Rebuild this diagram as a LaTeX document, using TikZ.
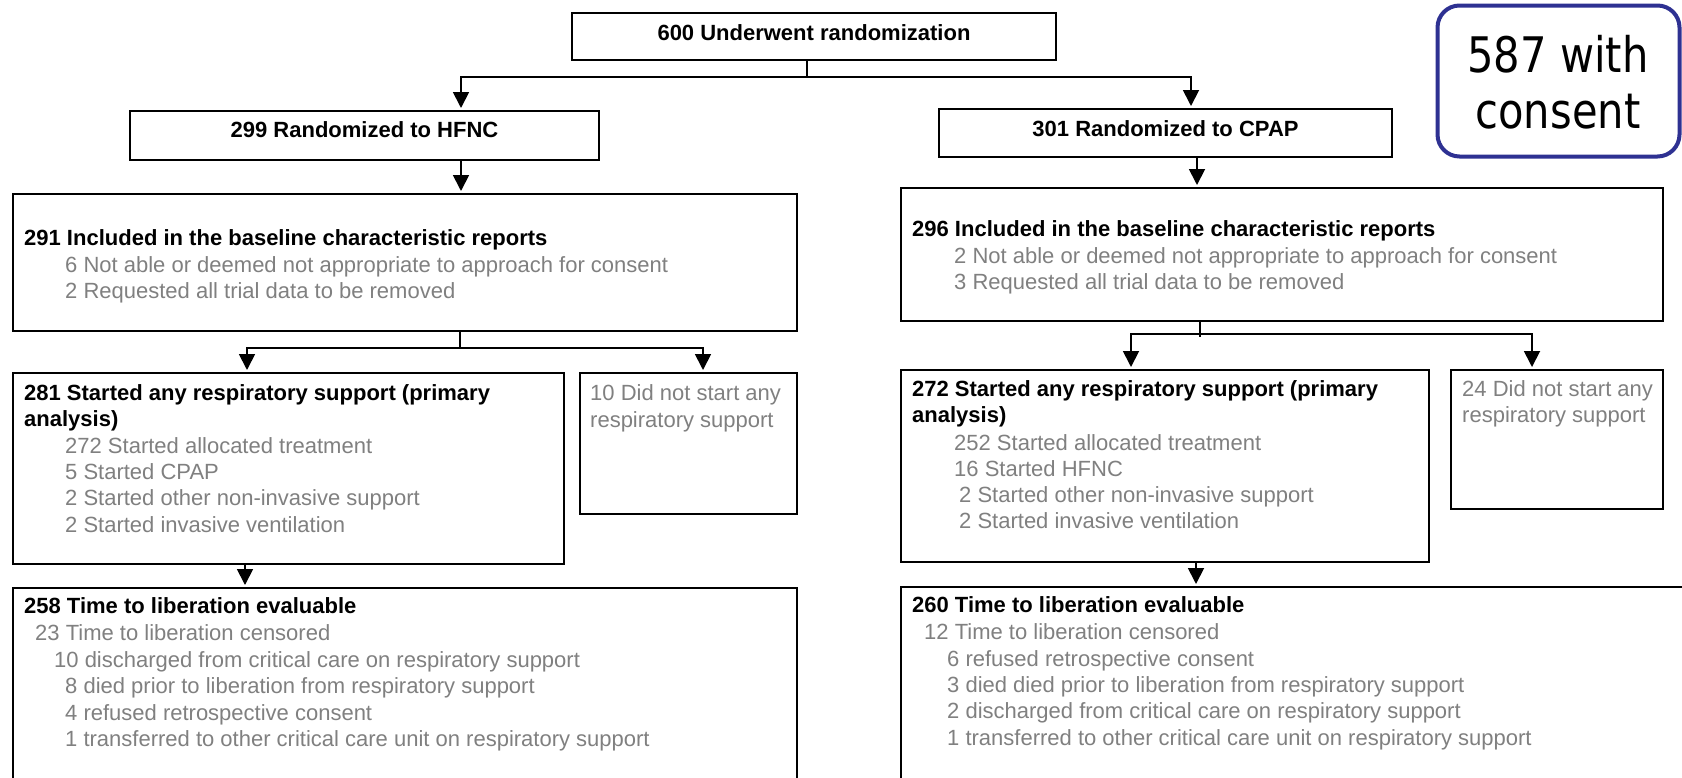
\documentclass[tikz,border=0pt]{standalone}
\usepackage{fontspec}
\setmainfont{Liberation Sans}
\newfontfamily\consentfont[FakeStretch=0.85]{DejaVu Sans}
\usetikzlibrary{arrows.meta}
\definecolor{greytext}{RGB}{128,128,128}
\definecolor{consentblue}{RGB}{46,49,146}

\begin{document}
\begin{tikzpicture}[x=1pt,y=-1pt,
  box/.style={draw=black, line width=2pt, inner sep=0pt, outer sep=0pt, anchor=north west},
  link/.style={line width=1.8pt},
  arr/.style={link, -{Triangle[length=16pt,width=16pt]}, shorten >=3pt},
  body/.style={anchor=base west, inner sep=0pt, font=\fontsize{22}{26}\selectfont},
  head/.style={body, font=\fontsize{22}{26}\selectfont\bfseries},
  note/.style={body, text=greytext},
  title/.style={anchor=base, inner sep=0pt, font=\fontsize{22}{26}\selectfont\bfseries},
  bigtext/.style={anchor=base, inner sep=0pt, font=\consentfont\fontsize{49}{57}\selectfont},
]
\useasboundingbox (0,0) rectangle (1682,777);
\clip (0,0) rectangle (1682,777);
\fill[white] (0,0) rectangle (1682,777);

% boxes
\node[box, minimum width=484pt, minimum height=47pt] (rand) at (572,13) {};
\node[box, minimum width=469pt, minimum height=49pt] (hfnc) at (130,111) {};
\node[box, minimum width=453pt, minimum height=48pt] (cpap) at (939,109) {};
\node[box, minimum width=784pt, minimum height=137pt] (inc1) at (13,194) {};
\node[box, minimum width=762pt, minimum height=133pt] (inc2) at (901,188) {};
\node[box, minimum width=551pt, minimum height=191pt] (start1) at (13,373) {};
\node[box, minimum width=217pt, minimum height=141pt] (nost1) at (580,373) {};
\node[box, minimum width=528pt, minimum height=192pt] (start2) at (901,370) {};
\node[box, minimum width=212pt, minimum height=139pt] (nost2) at (1451,370) {};
\node[box, minimum width=784pt, minimum height=230pt] (time1) at (13,588) {};
\node[box, minimum width=820pt, minimum height=230pt] (time2) at (901,587) {};
\node[box, draw=consentblue, line width=4pt, rounded corners=22pt,
      minimum width=242pt, minimum height=151pt] (consent) at (1437.5,5.5) {};

% connectors
\coordinate (jTop) at (807,77);
\coordinate (xH) at (461,0);
\coordinate (xC) at (1191,0);
\coordinate (xC2) at (1197,0);
\draw[link] (rand.south -| jTop) -- (jTop);
\draw[arr] (jTop) -| (hfnc.north -| xH);
\draw[arr] (jTop) -| (cpap.north -| xC);
\draw[arr] (hfnc.south -| xH) -- (inc1.north -| xH);
\draw[arr] (cpap.south -| xC2) -- (inc2.north -| xC2);

\coordinate (jL) at (460,348);
\coordinate (xS1) at (247,0);
\coordinate (xN1) at (703,0);
\draw[link] (inc1.south -| jL) -- (jL);
\draw[arr] (jL) -| (start1.north -| xS1);
\draw[arr] (jL) -| (nost1.north -| xN1);

\coordinate (jR) at (1200,334);
\coordinate (xS2) at (1131,0);
\coordinate (xN2) at (1532,0);
\draw[link] (inc2.south -| jR) -- ++(0,16);
\draw[arr] (jR) -| (start2.north -| xS2);
\draw[arr] (jR) -| (nost2.north -| xN2);

\coordinate (xT1) at (245,0);
\coordinate (xT2) at (1196,0);
\draw[arr] (start1.south -| xT1) -- (time1.north -| xT1);
\draw[arr] (start2.south -| xT2) -- (time2.north -| xT2);

% titles
\node[title] (tRand) at (814,40) {600 Underwent randomization};
\node[title] (tHfnc) at (364.5,137) {299 Randomized to HFNC};
\node[title] (tCpap) at (1165.5,136) {301 Randomized to CPAP};

% HFNC arm
\node[head] (i1a) at (24,245) {291 Included in the baseline characteristic reports};
\node[note] (i1b) at (65,272) {6 Not able or deemed not appropriate to approach for consent};
\node[note] (i1c) at (65,298) {2 Requested all trial data to be removed};

\node[head] (s1a) at (24,400) {281 Started any respiratory support (primary};
\node[head] (s1b) at (24,426) {analysis)};
\node[note] (s1c) at (65,453) {272 Started allocated treatment};
\node[note] (s1d) at (65,479) {5 Started CPAP};
\node[note] (s1e) at (65,505) {2 Started other non-invasive support};
\node[note] (s1f) at (65,532) {2 Started invasive ventilation};

\node[note] (n1a) at (590,400) {10 Did not start any};
\node[note] (n1b) at (590,427) {respiratory support};

\node[head] (l1a) at (24,613) {258 Time to liberation evaluable};
\node[note] (l1b) at (35,640) {23 Time to liberation censored};
\node[note] (l1c) at (54,667) {10 discharged from critical care on respiratory support};
\node[note] (l1d) at (65,693) {8 died prior to liberation from respiratory support};
\node[note] (l1e) at (65,720) {4 refused retrospective consent};
\node[note] (l1f) at (65,746) {1 transferred to other critical care unit on respiratory support};

% CPAP arm
\node[head] (i2a) at (912,236) {296 Included in the baseline characteristic reports};
\node[note] (i2b) at (954,263) {2 Not able or deemed not appropriate to approach for consent};
\node[note] (i2c) at (954,289) {3 Requested all trial data to be removed};

\node[head] (s2a) at (912,396) {272 Started any respiratory support (primary};
\node[head] (s2b) at (912,422) {analysis)};
\node[note] (s2c) at (954,450) {252 Started allocated treatment};
\node[note] (s2d) at (954,476) {16 Started HFNC};
\node[note] (s2e) at (959,502) {2 Started other non-invasive support};
\node[note] (s2f) at (959,528) {2 Started invasive ventilation};

\node[note] (n2a) at (1462,396) {24 Did not start any};
\node[note] (n2b) at (1462,422) {respiratory support};

\node[head] (l2a) at (912,612) {260 Time to liberation evaluable};
\node[note] (l2b) at (924,639) {12 Time to liberation censored};
\node[note] (l2c) at (947,666) {6 refused retrospective consent};
\node[note] (l2d) at (947,692) {3 died died prior to liberation from respiratory support};
\node[note] (l2e) at (947,718) {2 discharged from critical care on respiratory support};
\node[note] (l2f) at (947,745) {1 transferred to other critical care unit on respiratory support};

% consent count
\node[bigtext] (c1) at (1558,72) {587 with};
\node[bigtext] (c2) at (1558,128) {consent};
\end{tikzpicture}
\end{document}
